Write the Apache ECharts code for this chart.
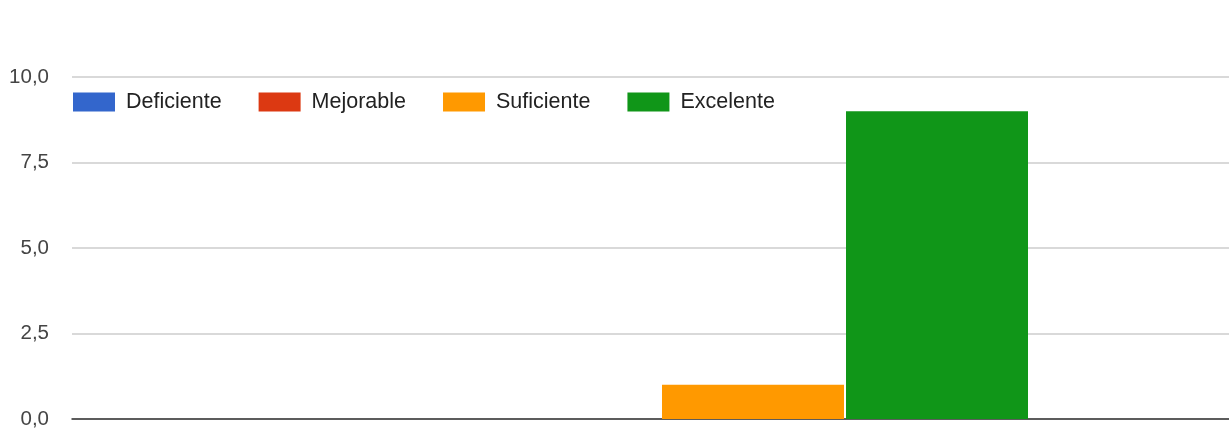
<!DOCTYPE html>
<html><head><meta charset="utf-8">
<script src="https://cdn.jsdelivr.net/npm/echarts@6/dist/echarts.min.js"></script>
<style>html,body{margin:0;padding:0;background:#fff;overflow:hidden}#c{width:1250px;height:432px}</style>
</head><body><div id="c"></div>
<script>
const categories = [''];
const seriesNames = ['Deficiente', 'Mejorable', 'Suficiente', 'Excelente'];
const deficiente = [0];
const mejorable = [0];
const suficiente = [1];
const excelente = [9];
const yTicks = [0, 2.5, 5, 7.5, 10];
const colors = ['#3366cc', '#dc3912', '#ff9900', '#109618'];
const values = [deficiente, mejorable, suficiente, excelente];

const chart = echarts.init(document.getElementById('c'), null, {renderer: 'canvas'});
chart.setOption({
  animation: false,
  color: colors,
  textStyle: {fontFamily: 'Liberation Sans, Arial, sans-serif'},
  legend: {
    left: 68, top: 86,
    itemWidth: 42, itemHeight: 19, itemGap: 37,
    icon: 'rect',
    textStyle: {fontSize: 21.5, color: '#222', padding: [0, 0, 0, 6]},
    data: seriesNames
  },
  grid: {left: 72, right: 0, top: 77, bottom: 13, containLabel: false},
  xAxis: {
    type: 'category', data: categories,
    axisTick: {show: false}, axisLabel: {show: false},
    axisLine: {lineStyle: {color: '#333', width: 1.5}}
  },
  yAxis: {
    type: 'value', min: yTicks[0], max: yTicks[yTicks.length - 1], interval: 2.5,
    axisLine: {show: false}, axisTick: {show: false},
    axisLabel: {fontSize: 20.5, color: '#444', margin: 23,
      formatter: v => v.toFixed(1).replace('.', ',')},
    splitLine: {lineStyle: {color: '#cccccc', width: 1.5}}
  },
  series: seriesNames.map((n, i) => ({
    name: n, type: 'bar', data: values[i], barWidth: 182, barGap: '1.1%'
  }))
});
</script></body></html>
